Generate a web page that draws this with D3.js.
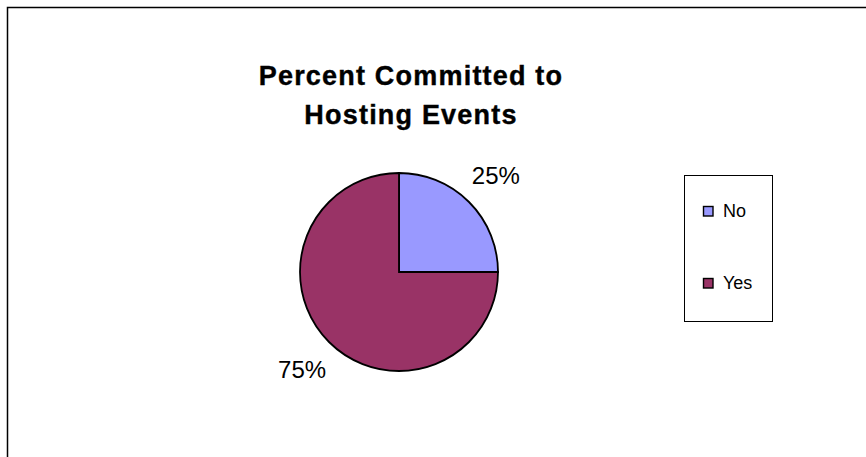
<!DOCTYPE html>
<html>
<head>
<meta charset="utf-8">
<script src="https://cdn.jsdelivr.net/npm/d3@7"></script>
<style>
  body { margin: 0; background: #fff; }
  text { font-family: "Liberation Sans", Arial, sans-serif; fill: #000; }
</style>
</head>
<body>
<script>
// chart data
var categories = ["No", "Yes"];
var values = [25, 75];
var colors = ["#9999FF", "#993366"];
var titleLines = ["Percent Committed to", "Hosting Events"];

// begin script when window loads
window.onload = drawChart();

function drawChart(){

    // frame dimensions
    var width = 866,
        height = 457;

    var svg = d3.select("body")
      .append("svg")
      .attr("width", width)
      .attr("height", height);

    // outer chart border, runs off the right and bottom edge
    svg.append("rect")
      .attr("x", 7.5)
      .attr("y", 7.5)
      .attr("width", width)
      .attr("height", height)
      .attr("fill", "#fff")
      .attr("stroke", "#000")
      .attr("stroke-width", 1.5);

    // title
    svg.append("g")
      .selectAll("text")
      .data(titleLines)
      .enter()
      .append("text")
      .attr("x", 411)
      .attr("y", function(d, i){ return 85 + i * 39; })
      .attr("text-anchor", "middle")
      .style("font-size", "27px")
      .style("font-weight", "bold")
      .style("letter-spacing", "1.2px")
      .style("stroke", "#000")
      .style("stroke-width", 0.4)
      .text(function(d){ return d; });

    // pie
    var cx = 399, cy = 272, radius = 99;

    var color = d3.scaleOrdinal()
      .domain(categories)
      .range(colors);

    var pie = d3.pie()
      .sort(null)
      .value(function(d){ return d; });

    var arcs = pie(values);

    var arc = d3.arc()
      .innerRadius(0)
      .outerRadius(radius);

    var labelArc = d3.arc()
      .innerRadius(137)
      .outerRadius(137);

    var g = svg.append("g")
      .attr("transform", "translate(" + cx + "," + cy + ")");

    g.selectAll("path")
      .data(arcs)
      .enter()
      .append("path")
      .attr("d", arc)
      .attr("fill", function(d, i){ return color(categories[i]); })
      .attr("stroke", "#000")
      .attr("stroke-width", 1.8)
      .attr("stroke-linejoin", "miter");

    var total = d3.sum(values);

    g.selectAll(".label")
      .data(arcs)
      .enter()
      .append("text")
      .attr("class", "label")
      .attr("transform", function(d){
          var c = labelArc.centroid(d);
          return "translate(" + c[0] + "," + (c[1] + 9) + ")";
      })
      .attr("text-anchor", "middle")
      .style("font-size", "24px")
      .text(function(d){ return Math.round(d.value / total * 100) + "%"; });

    // legend
    var legend = svg.append("g");

    legend.append("rect")
      .attr("x", 684.5)
      .attr("y", 175.5)
      .attr("width", 88)
      .attr("height", 146)
      .attr("fill", "#fff")
      .attr("stroke", "#000")
      .attr("stroke-width", 1);

    var items = legend.selectAll(".item")
      .data(categories)
      .enter()
      .append("g")
      .attr("class", "item")
      .attr("transform", function(d, i){ return "translate(703," + (206 + i * 72) + ")"; });

    items.append("rect")
      .attr("x", 0.5)
      .attr("y", 0.5)
      .attr("width", 9.5)
      .attr("height", 9.5)
      .attr("fill", function(d){ return color(d); })
      .attr("stroke", "#000")
      .attr("stroke-width", 1.4);

    items.append("text")
      .attr("x", 20)
      .attr("y", 11)
      .style("font-size", "18px")
      .text(function(d){ return d; });
};
</script>
</body>
</html>
